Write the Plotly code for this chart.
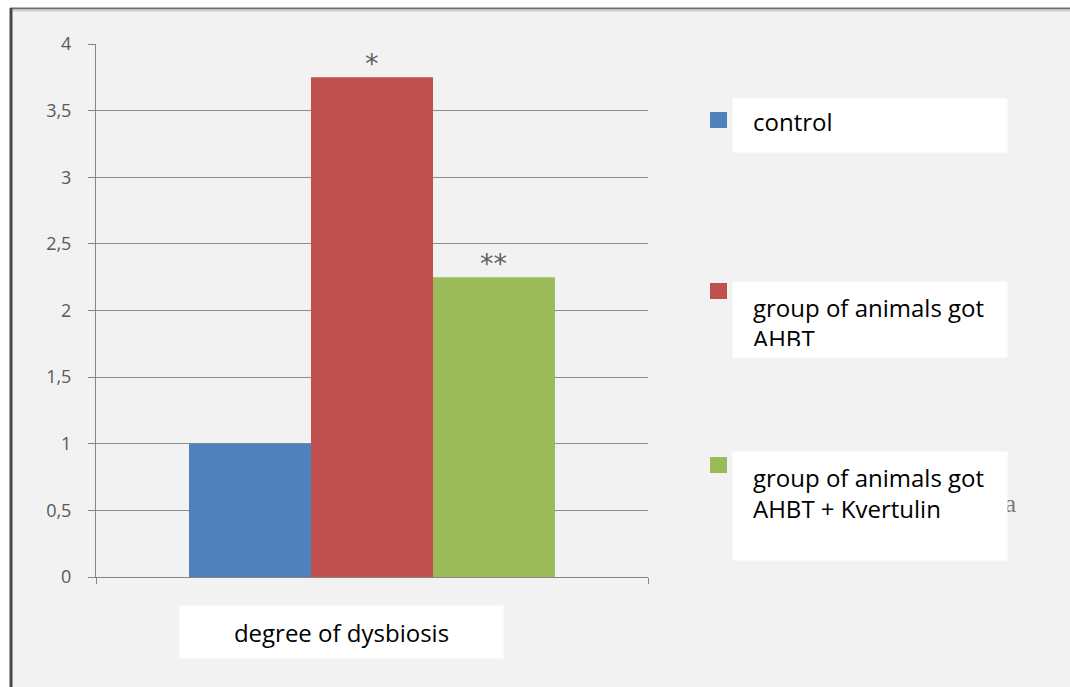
import plotly.graph_objects as go

# ---- data ----
categories = ["degree of dysbiosis"]
series_names = ["control", "group of animals got AHBT", "group of animals got AHBT + Kvertulin"]
legend_labels = ["control", "group of animals got<br>AHBT", "group of animals got<br>AHBT + Kvertulin"]
series_values = [1.0, 3.75, 2.25]
significance = ["", "*", "**"]
y_tickvals = [0, 0.5, 1, 1.5, 2, 2.5, 3, 3.5, 4]
y_ticktext = ["0", "0,5", "1", "1,5", "2", "2,5", "3", "3,5", "4"]

# ---- style ----
colors = ["#4f81bd", "#c0504d", "#9bbb59"]
W, H = 1070, 687
L, R, T, B = 96, 422, 44, 110
PW, PH = W - L - R, H - T - B
FONT = "Open Sans"
BARGAP = 0.337


def px(x):
    return (x - L) / PW


def py(y):
    return (H - B - y) / PH


fig = go.Figure()
for name, val, col in zip(series_names, series_values, colors):
    fig.add_trace(go.Bar(x=categories, y=[val], name=name, marker=dict(color=col, line=dict(width=0))))

shapes = []
# page background frame
shapes.append(dict(type="rect", xref="paper", yref="paper", x0=px(0), x1=px(W), y0=py(0), y1=py(8),
                   fillcolor="white", line=dict(width=0), layer="below"))
shapes.append(dict(type="rect", xref="paper", yref="paper", x0=px(0), x1=px(10), y0=py(0), y1=py(H),
                   fillcolor="white", line=dict(width=0), layer="below"))
shapes.append(dict(type="line", xref="paper", yref="paper", x0=px(10), x1=px(W), y0=py(8.5), y1=py(8.5),
                   line=dict(color="#6e6e6e", width=2), layer="below"))
shapes.append(dict(type="line", xref="paper", yref="paper", x0=px(10), x1=px(W), y0=py(10.5), y1=py(10.5),
                   line=dict(color="#d0d0d0", width=2), layer="below"))
shapes.append(dict(type="line", xref="paper", yref="paper", x0=px(11), x1=px(11), y0=py(8), y1=py(H),
                   line=dict(color="#4a4a4a", width=3), layer="below"))

annotations = []

# significance marks above bars
n = len(series_values)
bw = (1 - BARGAP) / n
for i, (val, mark) in enumerate(zip(series_values, significance)):
    if mark:
        annotations.append(dict(xref="x", yref="y", x=(i - (n - 1) / 2) * bw, y=val, text=mark,
                                showarrow=False, yanchor="bottom", yshift=-4,
                                font=dict(family="DejaVu Sans", size=27, color="#5e5e5e")))

# stray letter partly hidden by the last legend box
annotations.append(dict(xref="paper", yref="paper", x=px(1003), y=py(503), text="a", showarrow=False,
                        xanchor="left", yanchor="middle",
                        font=dict(family="Liberation Serif", size=25, color="#7a7a7a")))

# legend: boxes (x0, x1, y0, y1) and markers
legend_boxes = [(732, 1006, 98, 151), (732, 1006, 281, 356), (732, 1006, 451, 559)]
legend_square_y = [112, 283, 457]
for (x0, x1, y0, y1), sq_y, col in zip(legend_boxes, legend_square_y, colors):
    annotations.append(dict(xref="paper", yref="paper", x=px(x0), y=py(y0), text=" ", showarrow=False,
                            xanchor="left", yanchor="top", width=x1 - x0, height=y1 - y0,
                            borderpad=0, bgcolor="white"))
    shapes.append(dict(type="rect", xref="paper", yref="paper", x0=px(710), x1=px(727),
                       y0=py(sq_y), y1=py(sq_y + 16), fillcolor=col, line=dict(width=0)))

legend_text_pos = [(752, 104, 42), (752, 290, 55), (752, 460, 80)]
for (tx, ty, th), lab in zip(legend_text_pos, legend_labels):
    annotations.append(dict(xref="paper", yref="paper", x=px(tx), y=py(ty), text=lab, showarrow=False,
                            xanchor="left", yanchor="top", align="left", valign="top",
                            width=252, height=th, borderpad=0,
                            font=dict(family=FONT, size=24, color="black")))

# category label box
annotations.append(dict(xref="paper", yref="paper", x=px(179), y=py(605), text=categories[0],
                        showarrow=False, xanchor="left", yanchor="top", width=323, height=52,
                        borderpad=0, bgcolor="white", align="center", valign="middle",
                        font=dict(family=FONT, size=24, color="black")))

fig.update_layout(
    width=W, height=H,
    margin=dict(l=L, r=R, t=T, b=B, pad=0),
    paper_bgcolor="#f2f2f2", plot_bgcolor="#f2f2f2",
    barmode="group", bargap=BARGAP, bargroupgap=0,
    showlegend=False,
    shapes=shapes, annotations=annotations,
    xaxis=dict(range=[-0.5, 0.5], showticklabels=False, showgrid=False, zeroline=False,
               showline=True, linecolor="#868686", linewidth=1,
               ticks="outside", tickson="boundaries", ticklen=6, tickcolor="#868686"),
    yaxis=dict(range=[0, 4], tickvals=y_tickvals, ticktext=y_ticktext,
               showgrid=True, gridcolor="#8c8c8c", gridwidth=1, zeroline=False,
               showline=True, linecolor="#868686", linewidth=1,
               ticks="outside", ticklen=7, tickcolor="#868686", ticklabelstandoff=13,
               tickfont=dict(family=FONT, size=18, color="#595959")),
)

fig.write_html("out.html")
